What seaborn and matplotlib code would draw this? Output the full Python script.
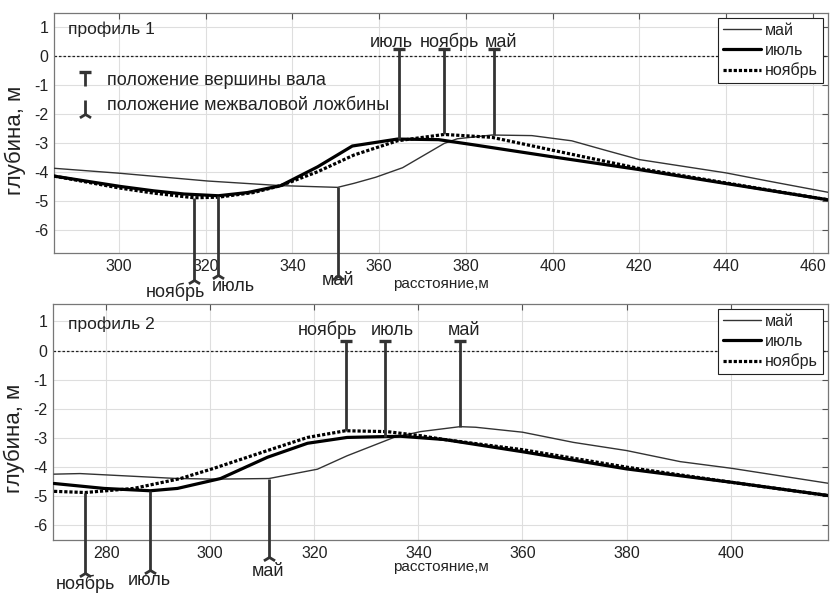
import numpy as np
import pandas as pd
import seaborn as sns
import matplotlib
matplotlib.use("Agg")
import matplotlib.pyplot as plt
from matplotlib.path import Path
from matplotlib.lines import Line2D

# ---------------- data ----------------
months = ["май", "июль", "ноябрь"]

# profile 1
p1_may_x = [285, 300, 320.4, 337.3, 350.4, 354.2, 359.2, 365.4, 375, 378, 386, 395.2, 404.4, 412, 420, 430, 440, 450, 463.5]
p1_may_y = [-3.87, -4.04, -4.31, -4.47, -4.53, -4.39, -4.18, -3.85, -3.01, -2.85, -2.72, -2.74, -2.92, -3.24, -3.57, -3.80, -4.03, -4.32, -4.70]
p1_jul_x = [285, 300.4, 308, 315, 322.9, 329.6, 337.3, 345.8, 353.8, 364.2, 373.7, 381.4, 399.8, 419.7, 439.7, 463.5]
p1_jul_y = [-4.14, -4.50, -4.65, -4.76, -4.82, -4.71, -4.47, -3.82, -3.10, -2.86, -2.88, -3.05, -3.47, -3.91, -4.39, -4.96]
p1_nov_x = [285, 300, 308, 317.3, 322.9, 331, 337.3, 345.8, 354.2, 364.2, 375, 386, 399.8, 419.7, 439.7, 463.5]
p1_nov_y = [-4.14, -4.55, -4.73, -4.89, -4.87, -4.71, -4.47, -3.99, -3.41, -2.92, -2.70, -2.80, -3.24, -3.87, -4.37, -4.96]

p1_crest_x = [364.5, 375.0, 386.4]
p1_crest_lab = ["июль", "ноябрь", "май"]
p1_trough_x = [317.3, 322.9, 350.4]
p1_trough_lab = ["ноябрь", "июль", "май"]

# profile 2
p2_may_x = [270, 275, 293.7, 301.3, 311.3, 320.6, 326.3, 335.3, 340.4, 348, 351, 360, 369.8, 380, 390.3, 400.2, 419]
p2_may_y = [-4.24, -4.22, -4.39, -4.41, -4.39, -4.07, -3.61, -2.98, -2.78, -2.61, -2.63, -2.80, -3.15, -3.43, -3.81, -4.04, -4.56]
p2_jul_x = [270, 279.6, 288.5, 293.7, 302, 311, 318.7, 326.3, 333.6, 336.6, 344.9, 360, 380, 400.2, 419]
p2_jul_y = [-4.56, -4.73, -4.81, -4.73, -4.39, -3.66, -3.18, -2.98, -2.95, -2.94, -3.05, -3.47, -4.06, -4.52, -4.98]
p2_nov_x = [270, 276, 285.3, 294.3, 300.7, 311, 318.7, 326, 334, 340.4, 344.9, 360, 380, 400.2, 419]
p2_nov_y = [-4.83, -4.87, -4.73, -4.39, -4.04, -3.43, -2.98, -2.75, -2.78, -2.92, -3.05, -3.40, -4.00, -4.52, -4.98]

p2_crest_x = [326.0, 333.6, 348.0]
p2_crest_lab = ["ноябрь", "июль", "май"]
p2_trough_x = [276.0, 288.5, 311.3]
p2_trough_lab = ["ноябрь", "июль", "май"]

x1_ticks = [300, 320, 340, 360, 380, 400, 420, 440, 460]
x2_ticks = [280, 300, 320, 340, 360, 380, 400]
y_ticks = [-6, -5, -4, -3, -2, -1, 0, 1]

# ---------------- style ----------------
sns.set_style("white")
plt.rcParams["font.family"] = ["Liberation Sans", "DejaVu Sans"]
plt.rcParams["axes.unicode_minus"] = False

MC = "#333333"
TC = "#222222"
palette = {"май": "#333333", "июль": "#000000", "ноябрь": "#000000"}
sizes = {"май": 1.0, "июль": 2.3, "ноябрь": 2.3}
dashes = {"май": "", "июль": "", "ноябрь": (1.0, 0.6)}

fork = Path([(-1, -0.6), (0, 0), (1, -0.6)], [Path.MOVETO, Path.LINETO, Path.LINETO])

fig = plt.figure(figsize=(8.3, 5.93), dpi=100)
ax1 = fig.add_axes([54 / 830, 1 - 253 / 593, 774 / 830, 240 / 593])
ax2 = fig.add_axes([53 / 830, 1 - 540 / 593, 775 / 830, 236 / 593])


def make_df(mx, my, jx, jy, nx, ny):
    parts = []
    for m, xs, ys in zip(months, [mx, jx, nx], [my, jy, ny]):
        parts.append(pd.DataFrame({"x": xs, "y": ys, "month": m}))
    return pd.concat(parts, ignore_index=True)


def style_axes(ax, xlim, ylim, xticks):
    ax.set_xlim(*xlim)
    ax.set_ylim(*ylim)
    ax.set_xticks(xticks)
    ax.set_yticks(y_ticks)
    ax.grid(True, color="#dedede", lw=0.8)
    ax.set_axisbelow(True)
    ax.tick_params(direction="in", top=True, right=True, length=4, width=0.8,
                   color="#555555", labelsize=11.5, pad=4, labelcolor=TC)
    for s in ax.spines.values():
        s.set_color("#777777")
        s.set_linewidth(0.9)
    ax.axhline(0, color=TC, lw=0.9, ls=(0, (2, 1.6)), zorder=1.5)
    ax.set_xlabel("расстояние,м", fontsize=11, color=TC)
    ax.set_ylabel("глубина, м", fontsize=16, color=TC)


def draw_profile(ax, df):
    sns.lineplot(data=df, x="x", y="y", hue="month", size="month", style="month",
                 palette=palette, sizes=sizes, dashes=dashes, estimator=None,
                 legend=False, ax=ax, zorder=3)


def series_lookup(df, name):
    d = df[df.month == name]
    return d.x.values, d.y.values


def crest(ax, df, xs, labels, top, lab_pos):
    for x, lab, (lx, ly) in zip(xs, labels, lab_pos):
        sx, sy = series_lookup(df, lab)
        y0 = np.interp(x, sx, sy)
        ax.plot([x, x], [y0, top], color=MC, lw=2.0, solid_capstyle="butt", zorder=4)
        ax.plot([x], [top], marker="_", ms=8, mew=2.4, color=MC, zorder=4)
        ax.text(lx, ly, lab, fontsize=13, ha="center", va="baseline", color=TC)


def trough(ax, df, xs, labels, bots, lab_pos):
    for x, lab, b, (lx, ly) in zip(xs, labels, bots, lab_pos):
        sx, sy = series_lookup(df, lab)
        y0 = np.interp(x, sx, sy)
        ax.plot([x, x], [y0, b], color=MC, lw=2.0, solid_capstyle="butt", zorder=4, clip_on=False)
        ax.plot([x], [b], marker=fork, ms=8, mew=2.0, mfc="none", color=MC, zorder=4, clip_on=False)
        ax.text(lx, ly, lab, fontsize=13, ha="center", va="baseline", color=TC, clip_on=False)


def legend(ax):
    handles = [Line2D([], [], color=palette["май"], lw=1.0),
               Line2D([], [], color="k", lw=2.3),
               Line2D([], [], color="k", lw=2.3, ls=(0, (1.0, 0.6)))]
    lg = ax.legend(handles, months, loc="upper right", fontsize=11.5, frameon=True,
                   fancybox=False, edgecolor=TC, framealpha=1,
                   handlelength=2.4, handletextpad=0.25, labelspacing=0.3,
                   borderpad=0.32, borderaxespad=0.3)
    lg.get_frame().set_linewidth(0.8)
    for t in lg.get_texts():
        t.set_color(TC)


# ---------- profile 1 ----------
df1 = make_df(p1_may_x, p1_may_y, p1_jul_x, p1_jul_y, p1_nov_x, p1_nov_y)
draw_profile(ax1, df1)
style_axes(ax1, (285, 463.5), (-6.8, 1.5), x1_ticks)
legend(ax1)
crest(ax1, df1, p1_crest_x, p1_crest_lab, 0.25,
      [(362.7, 0.33), (376.2, 0.33), (388.2, 0.33)])
trough(ax1, df1, p1_trough_x, p1_trough_lab, [-7.72, -7.55, -7.6],
       [(313.0, -8.31), (326.3, -8.13), (350.5, -7.92)])
ax1.text(288.2, 0.78, "профиль 1", fontsize=12.5, ha="left", va="baseline", color=TC)
# symbol key
ax1.plot([292.2, 292.2], [-1.03, -0.55], color=MC, lw=2.0, solid_capstyle="butt")
ax1.plot([292.2], [-0.55], marker="_", ms=8, mew=2.4, color=MC)
ax1.text(297.2, -1.0, "положение вершины вала", fontsize=13, ha="left", va="baseline", color=TC)
ax1.plot([292.2, 292.2], [-1.52, -1.98], color=MC, lw=2.0, solid_capstyle="butt")
ax1.plot([292.2], [-1.98], marker=fork, ms=8, mew=2.0, mfc="none", color=MC)
ax1.text(297.2, -1.87, "положение межваловой ложбины", fontsize=13, ha="left", va="baseline", color=TC)
ax1.xaxis.set_label_coords(0.5, -0.1)
ax1.yaxis.set_label_coords(-0.036, 0.47)

# ---------- profile 2 ----------
df2 = make_df(p2_may_x, p2_may_y, p2_jul_x, p2_jul_y, p2_nov_x, p2_nov_y)
draw_profile(ax2, df2)
style_axes(ax2, (269.8, 418.7), (-6.5, 1.6), x2_ticks)
legend(ax2)
crest(ax2, df2, p2_crest_x, p2_crest_lab, 0.34,
      [(322.6, 0.52), (334.9, 0.52), (348.8, 0.52)])
trough(ax2, df2, p2_trough_x, p2_trough_lab, [-7.62, -7.52, -7.1],
       [(276.0, -8.19), (288.3, -8.06), (311.1, -7.73)])
ax2.text(272.7, 0.75, "профиль 2", fontsize=12.5, ha="left", va="baseline", color=TC)
ax2.xaxis.set_label_coords(0.5, -0.085)
ax2.yaxis.set_label_coords(-0.036, 0.43)

fig.savefig("out.png", dpi=100)
